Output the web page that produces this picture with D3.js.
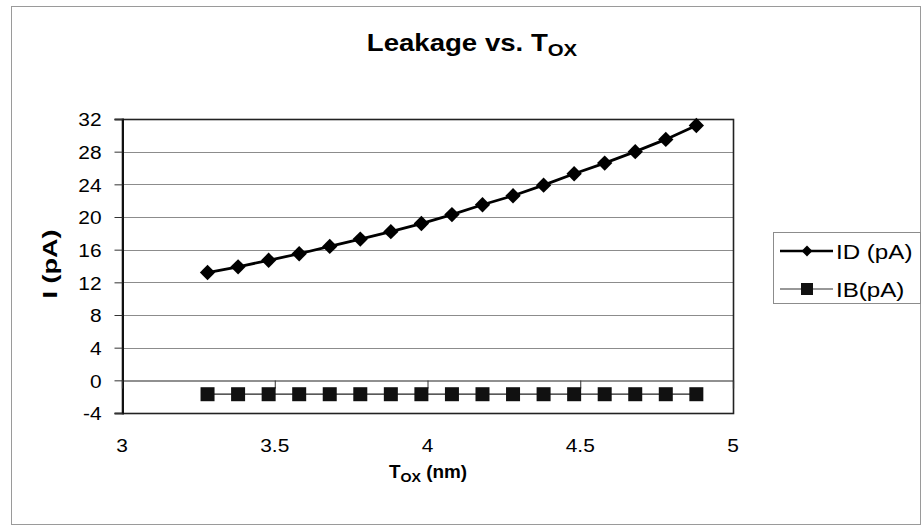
<!DOCTYPE html>
<html>
<head>
<meta charset="utf-8">
<script src="https://cdn.jsdelivr.net/npm/d3@7"></script>
<style>
  html, body { margin: 0; padding: 0; background: #fff; }
  svg { display: block; }
  text { font-family: "Liberation Sans", Arial, sans-serif; fill: #000; }
</style>
</head>
<body>
<svg id="chart" width="924" height="532"></svg>
<script>
// Oxide thickness (nm) sampled every 0.1 nm
const tox = [3.28, 3.38, 3.48, 3.58, 3.68, 3.78, 3.88, 3.98, 4.08, 4.18, 4.28, 4.38, 4.48, 4.58, 4.68, 4.78, 4.88];
// Drain leakage current (pA)
const idLeak = [13.2, 13.9, 14.7, 15.5, 16.4, 17.3, 18.2, 19.2, 20.3, 21.5, 22.6, 23.9, 25.3, 26.6, 28.0, 29.5, 31.2];
// Bulk leakage current (pA)
const ibLeak = [-1.7, -1.7, -1.7, -1.7, -1.7, -1.7, -1.7, -1.7, -1.7, -1.7, -1.7, -1.7, -1.7, -1.7, -1.7, -1.7, -1.7];

const yTicks = [-4, 0, 4, 8, 12, 16, 20, 24, 28, 32];
const xTicks = [3, 3.5, 4, 4.5, 5];
const seriesNames = ["ID (pA)", "IB(pA)"];

const svg = d3.select("#chart");
const plot = { left: 122, right: 733, top: 119, bottom: 413 };

const x = d3.scaleLinear().domain([3, 5]).range([plot.left, plot.right]);
const y = d3.scaleLinear().domain([-4, 32]).range([plot.bottom, plot.top]);

// Outer chart frame
svg.append("rect")
  .attr("x", 11.5).attr("y", 6.5).attr("width", 909).attr("height", 518)
  .attr("fill", "none").attr("stroke", "#9a9a9a").attr("stroke-width", 1);

// Horizontal gridlines
svg.append("g")
  .selectAll("line")
  .data(yTicks.filter(d => d !== -4 && d !== 32 && d !== 0))
  .join("line")
  .attr("x1", plot.left).attr("x2", plot.right)
  .attr("y1", d => Math.round(y(d)) + 0.5).attr("y2", d => Math.round(y(d)) + 0.5)
  .attr("stroke", "#8c8c8c").attr("stroke-width", 1);

// Plot area border
svg.append("rect")
  .attr("x", plot.left + 0.5).attr("y", plot.top + 0.5)
  .attr("width", plot.right - plot.left).attr("height", plot.bottom - plot.top)
  .attr("fill", "none").attr("stroke", "#222").attr("stroke-width", 1.6);

// Y axis (left): ticks pointing outward, labels right-aligned
const yAxis = d3.axisLeft(y).tickValues(yTicks).tickSize(8).tickPadding(13).tickFormat(d => String(d));
const gy = svg.append("g").attr("transform", `translate(${plot.left + 0.5},0)`).call(yAxis);
gy.select(".domain").attr("stroke", "#111").attr("stroke-width", 2);
gy.selectAll(".tick line").attr("stroke", "#333");
gy.selectAll(".tick text")
  .attr("font-size", 19)
  .attr("font-family", "Liberation Sans, Arial, sans-serif")
  .attr("fill", "#000")
  .attr("dy", "0.36em")
  .attr("transform", function () {
    const t = d3.select(this);
    return `translate(${t.attr("x")},0) scale(1.1,1) translate(${-t.attr("x")},0)`;
  });

// X axis line crossing at y = 0, with ticks hanging below it
const xAxis = d3.axisBottom(x).tickValues(xTicks).tickSize(8).tickFormat("");
const gx = svg.append("g").attr("transform", `translate(0,${Math.round(y(0)) + 0.5})`).call(xAxis);
gx.select(".domain").attr("stroke", "#222").attr("stroke-width", 1.2);
gx.selectAll(".tick line").attr("stroke", "#333");

// X tick labels sit below the plot area
svg.append("g")
  .selectAll("text")
  .data(xTicks)
  .join("text")
  .attr("text-anchor", "middle")
  .attr("font-size", 19)
  .attr("transform", d => `translate(${x(d)},452) scale(1.1,1)`)
  .text(d => String(d));

// IB series: thin line with square markers
const lineIB = d3.line().x((d, i) => x(tox[i])).y(d => y(d));
svg.append("path")
  .datum(ibLeak)
  .attr("d", lineIB)
  .attr("fill", "none").attr("stroke", "#222").attr("stroke-width", 1.2);
svg.append("g")
  .selectAll("rect")
  .data(ibLeak)
  .join("rect")
  .attr("x", (d, i) => x(tox[i]) - 7).attr("y", d => y(d) - 7)
  .attr("width", 14).attr("height", 14)
  .attr("fill", "#111");

// ID series: heavy line with diamond markers
const lineID = d3.line().x((d, i) => x(tox[i])).y(d => y(d));
svg.append("path")
  .datum(idLeak)
  .attr("d", lineID)
  .attr("fill", "none").attr("stroke", "#000").attr("stroke-width", 2.8);
const diamond = d3.symbol().type(d3.symbolDiamond2).size(150);
svg.append("g")
  .selectAll("path")
  .data(idLeak)
  .join("path")
  .attr("d", diamond)
  .attr("transform", (d, i) => `translate(${x(tox[i])},${y(d)})`)
  .attr("fill", "#000");

// Title with subscript
const title = svg.append("text")
  .attr("text-anchor", "middle")
  .attr("font-weight", "bold")
  .attr("font-size", 23)
  .attr("transform", "translate(472,51) scale(1.2,1)");
title.append("tspan").text("Leakage vs. T");
title.append("tspan").attr("font-size", 17).attr("dy", 5).text("OX");

// X axis title
const xTitle = svg.append("text")
  .attr("text-anchor", "middle")
  .attr("font-weight", "bold")
  .attr("font-size", 18)
  .attr("transform", "translate(428,478) scale(1.05,1)");
xTitle.append("tspan").text("T");
xTitle.append("tspan").attr("font-size", 13.5).attr("dy", 4).text("OX");
xTitle.append("tspan").attr("dy", -4).text(" (nm)");

// Y axis title
svg.append("text")
  .attr("text-anchor", "middle")
  .attr("font-weight", "bold")
  .attr("font-size", 20)
  .attr("transform", "translate(57,264) rotate(-90) scale(1.35,1)")
  .text("I (pA)");

// Legend
const legend = svg.append("g");
legend.append("rect")
  .attr("x", 773.5).attr("y", 232.5).attr("width", 147).attr("height", 71)
  .attr("fill", "#fff").attr("stroke", "#8c8c8c").attr("stroke-width", 1);

const rows = [
  { name: seriesNames[0], cy: 251, width: 2.6, marker: "diamond" },
  { name: seriesNames[1], cy: 289, width: 1.2, marker: "square" }
];
rows.forEach(r => {
  legend.append("line")
    .attr("x1", 780).attr("x2", 833).attr("y1", r.cy).attr("y2", r.cy)
    .attr("stroke", r.marker === "square" ? "#333" : "#000").attr("stroke-width", r.width);
  if (r.marker === "diamond") {
    legend.append("path")
      .attr("d", d3.symbol().type(d3.symbolDiamond2).size(75))
      .attr("transform", `translate(807,${r.cy})`)
      .attr("fill", "#000");
  } else {
    legend.append("rect")
      .attr("x", 801).attr("y", r.cy - 6).attr("width", 12).attr("height", 12)
      .attr("fill", "#111");
  }
  legend.append("text")
    .attr("font-size", 21)
    .attr("transform", `translate(836,${r.cy + 7.5}) scale(1.15,1)`)
    .text(r.name);
});
</script>
</body>
</html>
